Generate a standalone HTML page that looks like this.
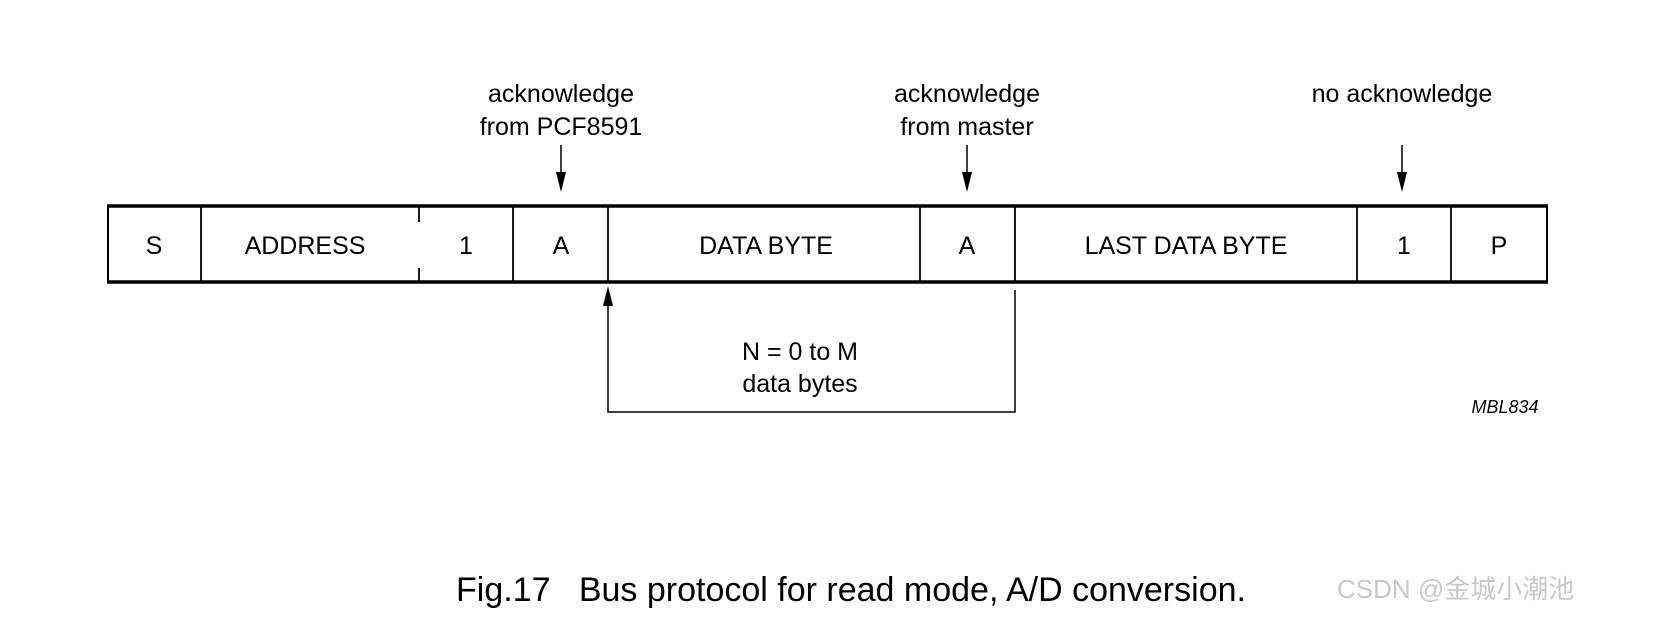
<!DOCTYPE html>
<html><head><meta charset="utf-8"><style>
html,body{margin:0;padding:0;background:#fff;}
body{width:1656px;height:619px;overflow:hidden;}
</style></head><body>
<svg width="1656" height="619" xmlns="http://www.w3.org/2000/svg" font-family="Liberation Sans, sans-serif">
<defs><marker id="ah" markerWidth="10" markerHeight="20" refX="5" refY="20" orient="auto" markerUnits="userSpaceOnUse"><path d="M0,0 L10,0 L5,20 Z" fill="#000"/></marker></defs>
<g font-size="25" text-anchor="middle" fill="#000">
<text x="561" y="102">acknowledge</text><text x="561" y="135">from PCF8591</text>
<text x="967" y="102">acknowledge</text><text x="967" y="135">from master</text>
<text x="1402" y="102">no acknowledge</text>
</g>
<g stroke="#000" stroke-width="1.5">
<line x1="561" y1="145" x2="561" y2="172"/><path d="M556,172 L566,172 L561,192 Z" fill="#000" stroke="none"/>
<line x1="967" y1="145" x2="967" y2="172"/><path d="M962,172 L972,172 L967,192 Z" fill="#000" stroke="none"/>
<line x1="1402" y1="145" x2="1402" y2="172"/><path d="M1397,172 L1407,172 L1402,192 Z" fill="#000" stroke="none"/>
</g>
<rect x="108" y="206" width="1439" height="76" fill="none" stroke="#000" stroke-width="2"/>
<line x1="107" y1="206" x2="1548" y2="206" stroke="#000" stroke-width="3.5"/>
<line x1="107" y1="282" x2="1548" y2="282" stroke="#000" stroke-width="3.5"/>
<g stroke="#000" stroke-width="1.8">
<line x1="201" y1="206" x2="201" y2="282"/>
<line x1="419" y1="206" x2="419" y2="222"/><line x1="419" y1="268" x2="419" y2="282"/>
<line x1="513" y1="206" x2="513" y2="282"/>
<line x1="608" y1="206" x2="608" y2="282"/>
<line x1="920" y1="206" x2="920" y2="282"/>
<line x1="1015" y1="206" x2="1015" y2="282"/>
<line x1="1357" y1="206" x2="1357" y2="282"/>
<line x1="1451" y1="206" x2="1451" y2="282"/>
</g>
<g font-size="25" text-anchor="middle" fill="#000">
<text x="154" y="254">S</text>
<text x="305" y="254">ADDRESS</text>
<text x="466" y="254">1</text>
<text x="561" y="254">A</text>
<text x="766" y="254">DATA BYTE</text>
<text x="967" y="254">A</text>
<text x="1186" y="254">LAST DATA BYTE</text>
<text x="1404" y="254">1</text>
<text x="1499" y="254">P</text>
</g>
<g stroke="#000" stroke-width="1.5" fill="none">
<polyline points="608,305 608,412 1015,412 1015,290"/>
</g>
<path d="M603,306 L613,306 L608,286 Z" fill="#000"/>
<g font-size="25" text-anchor="middle" fill="#000">
<text x="800" y="360">N = 0 to M</text>
<text x="800" y="392">data bytes</text>
</g>
<text x="1505" y="413" font-size="18" font-style="italic" text-anchor="middle">MBL834</text>
<text x="456" y="601" font-size="34" fill="#000" xml:space="preserve">Fig.17   Bus protocol for read mode, A/D conversion.</text>
<text x="1337" y="598" font-size="26" fill="#c8c8c8" font-family="Liberation Sans, Noto Sans CJK SC, sans-serif">CSDN @金城小潮池</text>
</svg>
</body></html>
